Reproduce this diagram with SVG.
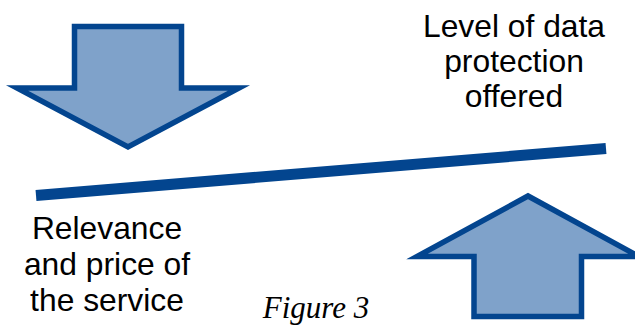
<svg xmlns="http://www.w3.org/2000/svg" width="635" height="325" viewBox="0 0 635 325">
<style>
.arrow{fill:#7FA2CA;stroke:#03458F;stroke-width:5.5;stroke-linejoin:miter;stroke-miterlimit:10}
.lbl{font-family:"Liberation Sans",Arial,sans-serif;font-size:31.8px;fill:#000;text-anchor:middle}
.cap{font-family:"Liberation Serif","Times New Roman",serif;font-style:italic;font-size:31px;fill:#000;text-anchor:middle}
</style>
<rect width="635" height="325" fill="#fff"/>
<g id="down-arrow">
<polygon class="arrow" points="74.5,26.5 181.5,26.5 181.5,88 239,88 128,147 17,88 74.5,88"/>
</g>
<g id="up-arrow">
<polygon class="arrow" points="474,316.5 581.5,316.5 581.5,256.5 639,256.5 528,196 417,256.5 474,256.5"/>
</g>
<g id="connectors">
<line x1="36" y1="195.5" x2="606" y2="148.5" stroke="#03458F" stroke-width="11"/>
</g>
<g id="label-protection">
<text class="lbl" x="514" y="37">Level of data</text>
<text class="lbl" x="514" y="72">protection</text>
<text class="lbl" x="514" y="107">offered</text>
</g>
<g id="label-relevance">
<text class="lbl" x="107" y="239">Relevance</text>
<text class="lbl" x="107" y="275">and price of</text>
<text class="lbl" x="107" y="311">the service</text>
</g>
<g id="caption">
<text class="cap" x="316" y="318">Figure 3</text>
</g>
</svg>
